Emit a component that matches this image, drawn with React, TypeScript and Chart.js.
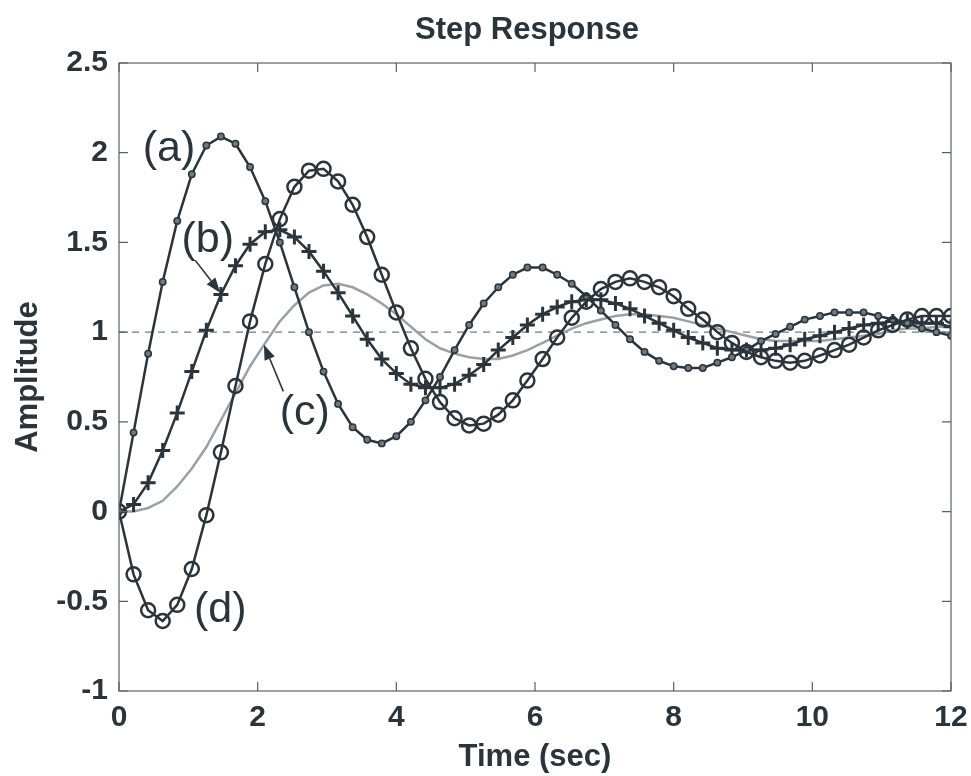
import React, { useEffect, useRef } from "react";
import { Chart, registerables } from "chart.js";

Chart.register(...registerables);

// Time samples (sec)
const timeSec = [
  0.0, 0.21, 0.42, 0.63, 0.84, 1.05, 1.26, 1.47, 1.68, 1.89,
  2.11, 2.32, 2.53, 2.74, 2.95, 3.16, 3.37, 3.58, 3.79, 4.0,
  4.21, 4.42, 4.63, 4.84, 5.05, 5.26, 5.47, 5.68, 5.89, 6.11,
  6.32, 6.53, 6.74, 6.95, 7.16, 7.37, 7.58, 7.79, 8.0, 8.21,
  8.42, 8.63, 8.84, 9.05, 9.26, 9.47, 9.68, 9.89, 10.11, 10.32,
  10.53, 10.74, 10.95, 11.16, 11.37, 11.58, 11.79, 12.0,
];

// (a) response — dot markers
const respA = [
  0.0, 0.44, 0.88, 1.28, 1.62, 1.88, 2.04, 2.09, 2.05, 1.92,
  1.73, 1.5, 1.25, 1.0, 0.78, 0.6, 0.47, 0.4, 0.38, 0.42,
  0.5, 0.62, 0.75, 0.9, 1.04, 1.16, 1.25, 1.32, 1.36, 1.36,
  1.32, 1.27, 1.2, 1.12, 1.04, 0.96, 0.89, 0.84, 0.81, 0.8,
  0.8, 0.83, 0.86, 0.9, 0.95, 0.99, 1.03, 1.07, 1.09, 1.11,
  1.11, 1.11, 1.09, 1.07, 1.05, 1.02, 1.0, 0.98,
];

// (b) response — plus markers
const respB = [
  0.0, 0.04, 0.16, 0.34, 0.55, 0.78, 1.01, 1.21, 1.37, 1.49,
  1.56, 1.57, 1.53, 1.45, 1.34, 1.22, 1.09, 0.96, 0.85, 0.77,
  0.71, 0.69, 0.69, 0.71, 0.76, 0.82, 0.9, 0.97, 1.04, 1.1,
  1.14, 1.17, 1.18, 1.18, 1.16, 1.13, 1.09, 1.05, 1.01, 0.97,
  0.94, 0.91, 0.9, 0.9, 0.9, 0.91, 0.93, 0.96, 0.98, 1.0,
  1.02, 1.04, 1.05, 1.06, 1.06, 1.05, 1.05, 1.03,
];

// (c) response — plain grey line
const respC = [
  0.0, 0.0, 0.02, 0.06, 0.14, 0.24, 0.36, 0.51, 0.66, 0.81,
  0.94, 1.06, 1.15, 1.22, 1.26, 1.27, 1.25, 1.21, 1.16, 1.1,
  1.03, 0.96, 0.91, 0.88, 0.86, 0.85, 0.85, 0.87, 0.9, 0.94,
  0.98, 1.02, 1.05, 1.07, 1.09, 1.1, 1.1, 1.09, 1.08, 1.06,
  1.04, 1.02, 1.0, 0.98, 0.96, 0.95, 0.95, 0.95, 0.95, 0.96,
  0.97, 0.98, 0.99, 1.01, 1.02, 1.02, 1.03, 1.03,
];

// (d) response — open circle markers
const respD = [
  0.0, -0.35, -0.55, -0.61, -0.52, -0.32, -0.02, 0.33, 0.7, 1.06,
  1.38, 1.63, 1.81, 1.9, 1.91, 1.84, 1.71, 1.53, 1.32, 1.11,
  0.91, 0.74, 0.61, 0.52, 0.48, 0.49, 0.54, 0.62, 0.73, 0.85,
  0.97, 1.08, 1.17, 1.24, 1.28, 1.3, 1.28, 1.25, 1.2, 1.13,
  1.07, 1.0, 0.94, 0.89, 0.86, 0.84, 0.83, 0.84, 0.87, 0.9,
  0.93, 0.97, 1.01, 1.04, 1.07, 1.09, 1.09, 1.09,
];

// Steady-state reference line
const refX = [0, 12];
const refY = [1, 1];

// Axis tick values and labels
const xTicks = [0, 2, 4, 6, 8, 10, 12];
const xTickLabels = ["0", "2", "4", "6", "8", "10", "12"];
const yTicks = [-1, -0.5, 0, 0.5, 1, 1.5, 2, 2.5];
const yTickLabels = ["-1", "-0.5", "0", "0.5", "1", "1.5", "2", "2.5"];

// Curve labels and arrows (data coordinates)
const curveLabels = ["(a)", "(b)", "(c)", "(d)"];
const labelX = [0.72, 1.28, 2.68, 1.46];
const labelY = [2.02, 1.51, 0.55, -0.55];
const arrowFromX = [1.1, 2.37];
const arrowFromY = [1.4, 0.67];
const arrowToX = [1.46, 2.09];
const arrowToY = [1.22, 0.93];

const titleText = "Step Response";
const xTitle = "Time (sec)";
const yTitle = "Amplitude";

const INK = "#2c343b";
const FONT = "'Liberation Sans', Arial, Helvetica, sans-serif";

function pts(xs: number[], ys: number[]) {
  return xs.map((x, i) => ({ x, y: ys[i] }));
}

const framePlugin = {
  id: "matlabFrame",
  afterDatasetsDraw(chart: any) {
    const { ctx, chartArea, scales } = chart;
    const { left, right, top, bottom } = chartArea;
    const xs = scales.x;
    const ys = scales.y;
    ctx.save();
    // frame
    ctx.strokeStyle = "#5a6066";
    ctx.lineWidth = 1.2;
    ctx.strokeRect(left, top, right - left, bottom - top);
    // inward ticks
    const tl = 9;
    ctx.beginPath();
    xTicks.forEach((v) => {
      const px = xs.getPixelForValue(v);
      ctx.moveTo(px, bottom);
      ctx.lineTo(px, bottom - tl);
      ctx.moveTo(px, top);
      ctx.lineTo(px, top + tl);
    });
    yTicks.forEach((v) => {
      const py = ys.getPixelForValue(v);
      ctx.moveTo(left, py);
      ctx.lineTo(left + tl, py);
      ctx.moveTo(right, py);
      ctx.lineTo(right - tl, py);
    });
    ctx.stroke();

    // curve labels
    ctx.fillStyle = INK;
    ctx.font = `43px ${FONT}`;
    ctx.textAlign = "center";
    ctx.textBaseline = "middle";
    curveLabels.forEach((t, i) => {
      ctx.fillText(t, xs.getPixelForValue(labelX[i]), ys.getPixelForValue(labelY[i]));
    });

    // arrows
    ctx.strokeStyle = INK;
    ctx.lineWidth = 1.6;
    arrowFromX.forEach((_, i) => {
      const x0 = xs.getPixelForValue(arrowFromX[i]);
      const y0 = ys.getPixelForValue(arrowFromY[i]);
      const x1 = xs.getPixelForValue(arrowToX[i]);
      const y1 = ys.getPixelForValue(arrowToY[i]);
      const ang = Math.atan2(y1 - y0, x1 - x0);
      const hl = 15;
      const hw = 5.5;
      const bx = x1 - hl * Math.cos(ang);
      const by = y1 - hl * Math.sin(ang);
      ctx.beginPath();
      ctx.moveTo(x0, y0);
      ctx.lineTo(bx, by);
      ctx.stroke();
      ctx.beginPath();
      ctx.moveTo(x1, y1);
      ctx.lineTo(bx + hw * Math.sin(ang), by - hw * Math.cos(ang));
      ctx.lineTo(bx - hw * Math.sin(ang), by + hw * Math.cos(ang));
      ctx.closePath();
      ctx.fill();
    });

    // titles
    ctx.font = `bold 31px ${FONT}`;
    ctx.textBaseline = "middle";
    ctx.fillText(titleText, (left + right) / 2 - 8, 30);
    ctx.fillText(xTitle, (left + right) / 2, 757);
    ctx.save();
    ctx.translate(28, (top + bottom) / 2);
    ctx.rotate(-Math.PI / 2);
    ctx.fillText(yTitle, 0, 0);
    ctx.restore();
    ctx.restore();
  },
};

export default function App() {
  const ref = useRef<HTMLCanvasElement | null>(null);

  useEffect(() => {
    if (!ref.current) return;
    const dark = INK;
    const chart = new Chart(ref.current, {
      type: "line",
      data: {
        datasets: [
          {
            label: "(d)",
            data: pts(timeSec, respD),
            borderColor: dark,
            borderWidth: 2.5,
            pointStyle: "circle",
            pointRadius: 7,
            pointBorderWidth: 2.5,
            pointBorderColor: dark,
            pointBackgroundColor: "rgba(0,0,0,0)",
            order: 1,
          },
          {
            label: "(a)",
            data: pts(timeSec, respA),
            borderColor: dark,
            borderWidth: 2.5,
            pointStyle: "circle",
            pointRadius: 3.2,
            pointBorderWidth: 1.5,
            pointBorderColor: dark,
            pointBackgroundColor: "#6f7980",
            order: 2,
          },
          {
            label: "(b)",
            data: pts(timeSec, respB),
            borderColor: dark,
            borderWidth: 2.5,
            pointStyle: "cross",
            pointRadius: 7.5,
            pointBorderWidth: 3,
            pointBorderColor: dark,
            order: 3,
          },
          {
            label: "(c)",
            data: pts(timeSec, respC),
            borderColor: "#9aa0a5",
            borderWidth: 2.5,
            pointRadius: 0,
            order: 5,
          },
          {
            label: "ref",
            data: pts(refX, refY),
            borderColor: "#6f7c7a",
            borderWidth: 1.2,
            borderDash: [7, 6],
            pointRadius: 0,
            order: 10,
          },
        ],
      },
      options: {
        animation: false,
        responsive: false,
        devicePixelRatio: 1,
        layout: { padding: { left: 0, top: 63, right: 20, bottom: 0 } },
        plugins: {
          legend: { display: false },
          title: { display: false },
          tooltip: { enabled: false },
        },
        scales: {
          x: {
            type: "linear",
            min: 0,
            max: 12,
            afterBuildTicks: (s: any) => {
              s.ticks = xTicks.map((v) => ({ value: v }));
            },
            afterFit: (s: any) => {
              s.height = 85;
              s.paddingLeft = 0;
              s.paddingRight = 0;
            },
            grid: { display: false, drawTicks: false },
            border: { display: false },
            ticks: {
              color: INK,
              font: { family: FONT, size: 30, weight: "bold" },
              padding: 9,
              maxRotation: 0,
              callback: (v: any) => {
                const i = xTicks.indexOf(Number(v));
                return i >= 0 ? xTickLabels[i] : "";
              },
            },
          },
          y: {
            type: "linear",
            min: -1,
            max: 2.5,
            afterBuildTicks: (s: any) => {
              s.ticks = yTicks.map((v) => ({ value: v }));
            },
            afterFit: (s: any) => {
              s.width = 119;
              s.paddingTop = 0;
              s.paddingBottom = 0;
            },
            grid: { display: false, drawTicks: false },
            border: { display: false },
            ticks: {
              color: INK,
              font: { family: FONT, size: 30, weight: "bold" },
              padding: 11,
              callback: (v: any) => {
                const i = yTicks.indexOf(Number(v));
                return i >= 0 ? yTickLabels[i] : "";
              },
            },
          },
        },
      },
      plugins: [framePlugin],
    });
    return () => chart.destroy();
  }, []);

  return (
    <div style={{ position: "absolute", left: 0, top: 0, width: 971, height: 776, background: "#fff" }}>
      <canvas ref={ref} width={971} height={776} style={{ width: 971, height: 776, display: "block" }} />
    </div>
  );
}
